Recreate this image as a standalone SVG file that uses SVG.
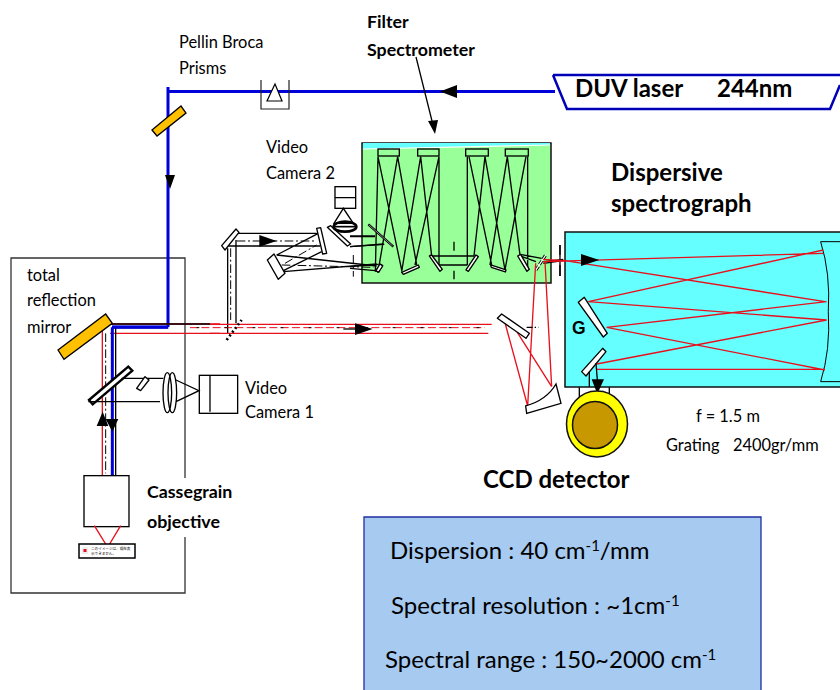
<svg xmlns="http://www.w3.org/2000/svg" width="840" height="690" viewBox="0 0 840 690">
<style>
text{font-family:Lato,"Noto Sans CJK JP",sans-serif;fill:#000;white-space:pre}
.s14{font-size:16.4px}.b22{font-size:24px;font-weight:700}.b15{font-size:17.800px;font-weight:700}
.p{font-size:24px}
.k{fill:none;stroke:#000;stroke-width:4}
.d{fill:none;stroke:#000;stroke-width:3;stroke-dasharray:26 8 6 8}
.r{fill:none;stroke:#e8101c;stroke-width:4}
.m{fill:#fff;stroke:#000;stroke-width:4;stroke-linejoin:round}
.a{fill:#000}
.y{fill:#ffc000;stroke:#000;stroke-width:1.3}
.bl{fill:none;stroke:#0000d8;stroke-width:3}
</style>
<rect width="840" height="690" fill="#fff"/>
<g id="microscope-box"><path d="M185 478V258H11V593H185V537" fill="none" stroke="#333" stroke-width="1.3"/></g>
<g id="filter-spectrometer">
<rect x="362" y="143" width="189" height="140" fill="#99ff99" stroke="#111" stroke-width="1.5"/>
<path d="M363 143H550V145L363 149Z" fill="#66ffff"/><path d="M363 149L550 145" stroke="#fff" stroke-width="1.2"/>
<g transform="translate(350 130) scale(.3333)">
<g class="k"><rect x="84" y="57" width="64" height="21"/><rect x="203" y="57" width="64" height="21"/><rect x="347" y="57" width="68" height="21"/><rect x="466" y="57" width="69" height="21"/>
<path d="M84 80L76 425M84 80L155 420M143 80L85 420M143 80L200 405M212 80L155 425M212 80L245 378M267 80L195 405M267 80V405M352 80V405M357 80L425 405M405 80L372 378M405 80L465 420M472 80L420 405M472 80L510 375M528 80L465 420M533 80V420M245 378H372M268 405H352M312 335V362M312 422V448M630 345V438M510 373L575 385M510 378L558 395M580 395L640 388M580 400L640 392M0 320H75M0 350L103 343M0 410L85 403M0 415L77 422"/></g>
<g class="m"><path d="M155 427L205 405L208 412L160 433Z"/><path d="M238 378L245 375L277 418L270 424Z"/><path d="M348 420L378 375L385 380L355 424Z"/><path d="M422 405L468 420L466 426L424 412Z"/><path d="M503 378L512 373L538 418L531 424Z"/><path d="M77 422L92 403L98 407L84 426Z"/></g>
<path d="M55 283L130 350" stroke="#000" stroke-width="7"/><path d="M57 285L128 348" stroke="#ccc" stroke-width="2"/>
<path d="M558 420L587 375" stroke="#000" stroke-width="9" stroke-dasharray="14 5"/><path d="M558 420L587 375" stroke="#fff" stroke-width="4"/>
</g></g>
<g id="spectrograph">
<rect x="565" y="232" width="277" height="155" fill="#66ffff" stroke="#111" stroke-width="1.5"/>
<g transform="translate(490 240) scale(.3333)">
<path d="M1052 5H992Q1022 100 1015 215Q1022 330 992 425H1052" fill="none" stroke="#000" stroke-width="3"/>
<path class="m" stroke-width="3" d="M265 187L283 172L352 280L340 291Z"/>
<path class="m" stroke-width="3" d="M275 395L338 325L348 335L288 408Z"/>
<path class="r" d="M160 65L1000 40M160 58L225 62L1005 185M1000 30L295 185L1010 240M1010 185L350 262L1005 390M1010 240L320 372M320 388H1005"/>
<path class="k" d="M318 370L322 420M298 395V440M268 442V470M358 442V470"/>
<path class="a" d="M273 42L328 60L273 78ZM305 418H342L322 462Z"/>
<path class="k" d="M210 15V45M210 75V108"/>
</g></g>
<g id="ccd-detector"><ellipse cx="597" cy="424" rx="30.5" ry="33" fill="#ffff00" stroke="#111" stroke-width="1.5"/><ellipse cx="595" cy="425" rx="22.5" ry="23.5" fill="#c89800" stroke="#111" stroke-width="1.5"/></g>
<g id="coupling-optics"><g transform="translate(490 240) scale(.3333)">
<path class="r" d="M46 252L113 498M82 277L185 440M113 498L137 70M185 440L165 65"/>
<path class="m" stroke-width="3" d="M22 235L35 222L118 280L108 295Z"/>
<path class="k" stroke-dasharray="18 6 4 6" d="M110 262H145"/>
<path d="M107 498Q170 480 198 432L213 490L110 520Z" fill="#fff" stroke="#000" stroke-width="4"/>
</g></g>
<g id="connectors">
<path class="bl" d="M168 87V327M168 91.500H555M112 327H168"/>
<path class="a" d="M457 85V98L440 91.500ZM165 175H175L170 189ZM428 121L438 120L435 134Z"/>
<path d="M416 57L433 125" stroke="#000" stroke-width="1.300"/>
</g>
<g id="laser"><path d="M553 75H842M553 75L567 109H830L840 85" fill="none" stroke="#0000b8" stroke-width="2.500"/>
<text class="b22" x="575" y="97">DUV laser</text><text class="b22" x="717" y="97">244nm</text></g>
<g id="pellin-broca"><path d="M261 80V109H289V80" fill="none" stroke="#222" stroke-width="1.200"/><path d="M275 84L267 101H282Z" fill="#fff" stroke="#000" stroke-width="1.200"/></g>
<g id="steering-mirror"><path class="y" d="M152 130L181 106L186 113L157 136Z"/></g>
<g id="periscope-optics"><g transform="translate(210 180) scale(.3333)">
<path class="k" d="M78 160H320M55 198H330M53 205V460M78 180V430M200 225L325 160M220 272L335 215M200 225L500 258M220 275L500 252M420 168H495M420 200L520 192"/>
<path class="d" d="M80 183H320M62 205V420M225 250L320 195M215 255L490 262M430 225V290"/>
<g class="m"><path d="M35 197L78 147L87 157L45 210Z"/><path d="M320 145L332 143L350 220L338 222Z"/><path d="M172 240L192 222L225 280L205 298Z"/><path d="M498 272L510 252L518 258L506 277Z"/><path d="M352 142L362 137L422 192L412 198Z"/></g>
<path class="a" d="M148 165L200 183L148 200Z"/>
<rect class="k" x="375" y="20" width="62" height="65"/><path class="k" d="M375 53H437M400 85L372 130H430Z"/>
<ellipse cx="405" cy="140" rx="34" ry="15" fill="none" stroke="#000" stroke-width="8"/><path d="M372 140H438" stroke="#000" stroke-width="5"/>
<path class="r" d="M0 433H845M0 460H835"/>
<path d="M-60 443H825" fill="none" stroke="#e8101c" stroke-width="3" stroke-dasharray="24 10"/>
<path d="M-40 443H830" fill="none" stroke="#000" stroke-width="3" stroke-dasharray="8 76"/>
<path class="k" d="M400 447H440"/><path class="a" d="M435 430L488 447L435 465Z"/>
<path d="M50 480L95 420" stroke="#000" stroke-width="8" stroke-dasharray="6 8" fill="none"/>
</g></g>
<g id="main-path"><g transform="translate(50 300) scale(.3333)">
<path class="r" d="M157 92V525M180 72H510M180 100H510"/>
<path class="k" stroke-width="3" d="M183 72H480M197 80V525"/>
<path class="d" d="M167 100V520"/>
<path d="M187 82V525M187 82H355" fill="none" stroke="#0000d8" stroke-width="9"/>
<path d="M24 150L167 42L187 70L42 178Z" fill="#ffc000" stroke="#000" stroke-width="4"/>
<path d="M117 300L235 200L247 212L128 313Z" fill="#fff" stroke="#000" stroke-width="7"/>
<path class="k" d="M215 235H340M115 305H330"/>
<path class="m" stroke-width="3" d="M260 265L285 230L297 240L272 272Z"/>
<ellipse cx="352" cy="278" rx="13" ry="60" class="k"/><ellipse cx="367" cy="278" rx="13" ry="60" class="k"/>
<path class="k" d="M378 240L447 272L378 305"/><rect x="448" y="226" width="115" height="114" class="k"/><path class="k" d="M480 226V335"/>
<path class="a" d="M140 378L158 335L175 378ZM167 357H205L187 395Z"/>
<rect x="102" y="527" width="135" height="153" fill="#fff" stroke="#000" stroke-width="4"/>
<path class="r" d="M133 677L173 742L212 677"/>
</g></g>
<g id="placeholder"><rect x="79" y="544" width="56" height="14" fill="#fff" stroke="#000" stroke-width="1.500"/><rect x="82" y="547" width="6" height="7" fill="#eee"/><rect x="83.500" y="549" width="3" height="3" fill="#e8101c"/>
<text x="91" y="550" font-size="3.600px">このイメージは、現在表</text><text x="91" y="555" font-size="3.600px">示できません。</text></g>
<g id="labels">
<text class="b15" x="367" y="28">Filter</text><text class="b15" x="367" y="56">Spectrometer</text>
<text class="s14" x="179" y="48">Pellin Broca</text><text class="s14" x="179" y="74">Prisms</text>
<text class="s14" x="266" y="153">Video</text><text class="s14" x="266" y="179">Camera 2</text>
<text class="b22" x="611" y="181">Dispersive</text><text class="b22" x="611" y="212">spectrograph</text>
<text class="s14" x="27" y="281">total</text><text class="s14" x="27" y="306">reflection</text><text class="s14" x="27" y="333">mirror</text>
<text class="s14" x="245" y="394">Video</text><text class="s14" x="245" y="418">Camera 1</text>
<text class="b15" x="147" y="498">Cassegrain</text><text class="b15" x="147" y="528">objective</text>
<text class="s14" x="696" y="422">f = 1.5 m</text><text class="s14" x="666" y="451">Grating  <tspan x="733">2400gr/mm</tspan></text>
<text class="b22" x="483" y="488">CCD detector</text>
<text x="572" y="334" font-size="17.500px" font-weight="700" style="font-family:'Liberation Sans',sans-serif">G</text>
</g>
<g id="specs"><path d="M364 690V517H761V690" fill="#a6caf0" stroke="#1f2fa0" stroke-width="1.300"/>
<text class="p" x="390" y="559">Dispersion : 40 cm<tspan font-size="15px" dy="-8">-1</tspan><tspan dy="8">/mm</tspan></text>
<text class="p" x="391" y="614">Spectral resolution : ~1cm<tspan font-size="15px" dy="-8">-1</tspan></text>
<text class="p" x="385" y="668">Spectral range : 150~2000 cm<tspan font-size="15px" dy="-8">-1</tspan></text></g>
</svg>
